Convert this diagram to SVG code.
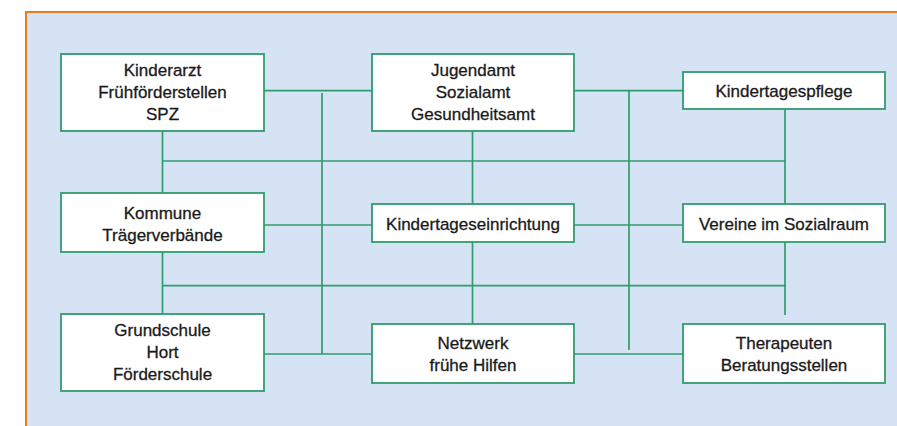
<svg xmlns="http://www.w3.org/2000/svg" width="897" height="426" viewBox="0 0 897 426">
<style>
.bg{fill:#d6e3f4}
.frame{fill:none;stroke:#ec7a1c;stroke-width:2}
.box{fill:#ffffff;stroke:#2e9d6c;stroke-width:1.8}
.con{fill:none;stroke:#2e9d6c;stroke-width:1.7}
text{font-family:"Liberation Sans",Arial,sans-serif;font-size:17px;fill:#1a1a1a;stroke:#1a1a1a;stroke-width:0.3;text-anchor:middle}
</style>
<rect class="bg" x="26" y="12" width="871" height="414"/>
<path class="frame" d="M26 426 V12 H897"/>
<g id="connectors">
<path class="con" d="M264 90.7 H372"/>
<path class="con" d="M574 90.7 H683"/>
<path class="con" d="M322 93 V354"/>
<path class="con" d="M629 90.7 V350"/>
<path class="con" d="M162.5 131 V193"/>
<path class="con" d="M162.5 161 H786"/>
<path class="con" d="M472.5 131 V204"/>
<path class="con" d="M785 109 V204"/>
<path class="con" d="M264 225 H372"/>
<path class="con" d="M574 225 H683"/>
<path class="con" d="M162.5 252 V314"/>
<path class="con" d="M162.5 285.7 H786"/>
<path class="con" d="M472.5 242 V324"/>
<path class="con" d="M785 242 V315"/>
<path class="con" d="M264 354 H372"/>
<path class="con" d="M574 354 H683"/>
</g>
<g id="kinderarzt">
<rect class="box" x="61" y="54" width="203" height="77"/>
<text x="162.5" y="76">Kinderarzt</text>
<text x="162.5" y="98">Frühförderstellen</text>
<text x="162.5" y="120">SPZ</text>
</g>
<g id="jugendamt">
<rect class="box" x="372" y="54" width="202" height="77"/>
<text x="473" y="76">Jugendamt</text>
<text x="473" y="98">Sozialamt</text>
<text x="473" y="120">Gesundheitsamt</text>
</g>
<g id="kindertagespflege">
<rect class="box" x="683" y="72" width="202" height="37"/>
<text x="784" y="97">Kindertagespflege</text>
</g>
<g id="kommune">
<rect class="box" x="61" y="193" width="203" height="59"/>
<text x="162.5" y="218.5">Kommune</text>
<text x="162.5" y="240.5">Trägerverbände</text>
</g>
<g id="kindertageseinrichtung">
<rect class="box" x="372" y="204" width="202" height="38"/>
<text x="473" y="229.5">Kindertageseinrichtung</text>
</g>
<g id="vereine">
<rect class="box" x="683" y="204" width="202" height="38"/>
<text x="784" y="229.5">Vereine im Sozialraum</text>
</g>
<g id="grundschule">
<rect class="box" x="61" y="314" width="203" height="77"/>
<text x="162.5" y="336">Grundschule</text>
<text x="162.5" y="358">Hort</text>
<text x="162.5" y="380">Förderschule</text>
</g>
<g id="netzwerk">
<rect class="box" x="372" y="324" width="202" height="59"/>
<text x="473" y="348.5">Netzwerk</text>
<text x="473" y="370.5">frühe Hilfen</text>
</g>
<g id="therapeuten">
<rect class="box" x="683" y="324" width="202" height="59"/>
<text x="784" y="348.5">Therapeuten</text>
<text x="784" y="370.5">Beratungsstellen</text>
</g>
</svg>
